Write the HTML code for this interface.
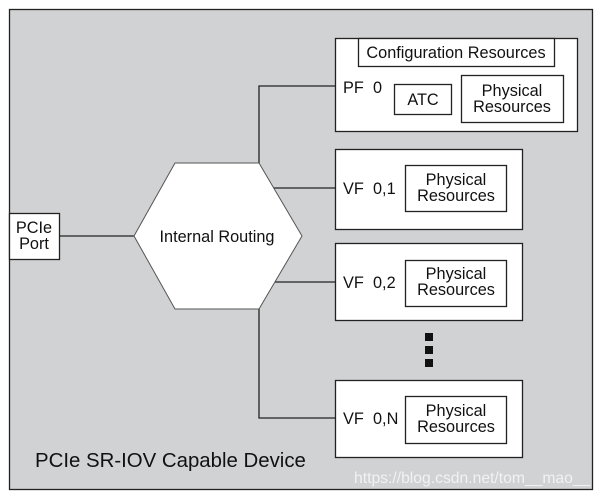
<!DOCTYPE html>
<html><head><style>
body{margin:0;background:#fff;width:601px;height:495px;overflow:hidden}
svg text{font-family:"Liberation Sans",sans-serif;fill:#111}
</style></head><body>
<svg width="601" height="495" viewBox="0 0 601 495" xmlns="http://www.w3.org/2000/svg">
<rect x="9.5" y="9.5" width="583" height="480" fill="#d1d2d4" stroke="#222" stroke-width="1.3"/>
<g stroke="#222" stroke-width="1.3" fill="none">
<polyline points="259,163 259,86 335,86"/>
<line x1="272" y1="188" x2="335" y2="188"/>
<line x1="274" y1="282" x2="335" y2="282"/>
<polyline points="259,309 259,418 335,418"/>
<line x1="59" y1="236" x2="134" y2="236"/>
</g>
<g stroke="#222" stroke-width="1.3" fill="#fff">
<polygon points="134,236 175,163 259,163 302,236 259,309 175,309" stroke="#555" stroke-width="1"/>
<rect x="9.5" y="213.5" width="50" height="46"/>
<rect x="335.5" y="38.5" width="242" height="93"/>
<rect x="358.5" y="38.5" width="196" height="28"/>
<rect x="394.5" y="84.5" width="57" height="30"/>
<rect x="461.5" y="75.5" width="102" height="47"/>
<rect x="335.5" y="149.5" width="187" height="80"/>
<rect x="405.5" y="165.5" width="101" height="46"/>
<rect x="335.5" y="243.5" width="187" height="77"/>
<rect x="405.5" y="260.5" width="101" height="46"/>
<rect x="335.5" y="380.5" width="187" height="77"/>
<rect x="405.5" y="396.5" width="101" height="47"/>
</g>
<g fill="#111">
<rect x="425" y="333" width="8" height="8"/>
<rect x="425" y="346" width="8" height="8"/>
<rect x="425" y="359" width="8" height="8"/>
</g>
<g font-size="16.3" text-anchor="middle">
<text x="456" y="58">Configuration Resources</text>
<text x="423" y="105">ATC</text>
<text x="512" y="96">Physical</text><text x="512" y="112">Resources</text>
<text x="456" y="185">Physical</text><text x="456" y="201">Resources</text>
<text x="456" y="279">Physical</text><text x="456" y="295">Resources</text>
<text x="456" y="416">Physical</text><text x="456" y="432">Resources</text>
<text x="217" y="242">Internal Routing</text>
<text x="34" y="233">PCIe</text><text x="34" y="249">Port</text>
</g>
<g font-size="16.3">
<text x="343" y="93">PF</text><text x="373" y="93">0</text>
<text x="343" y="194">VF</text><text x="373" y="194">0,1</text>
<text x="343" y="288">VF</text><text x="373" y="288">0,2</text>
<text x="343" y="424">VF</text><text x="373" y="424">0,N</text>
<text x="35" y="467" font-size="20.4">PCIe SR-IOV Capable Device</text>
<text x="354" y="483" font-size="15.7" style="fill:#f2f2f2">https://blog.csdn.net/tom__mao__</text>
</g>
</svg>
</body></html>
